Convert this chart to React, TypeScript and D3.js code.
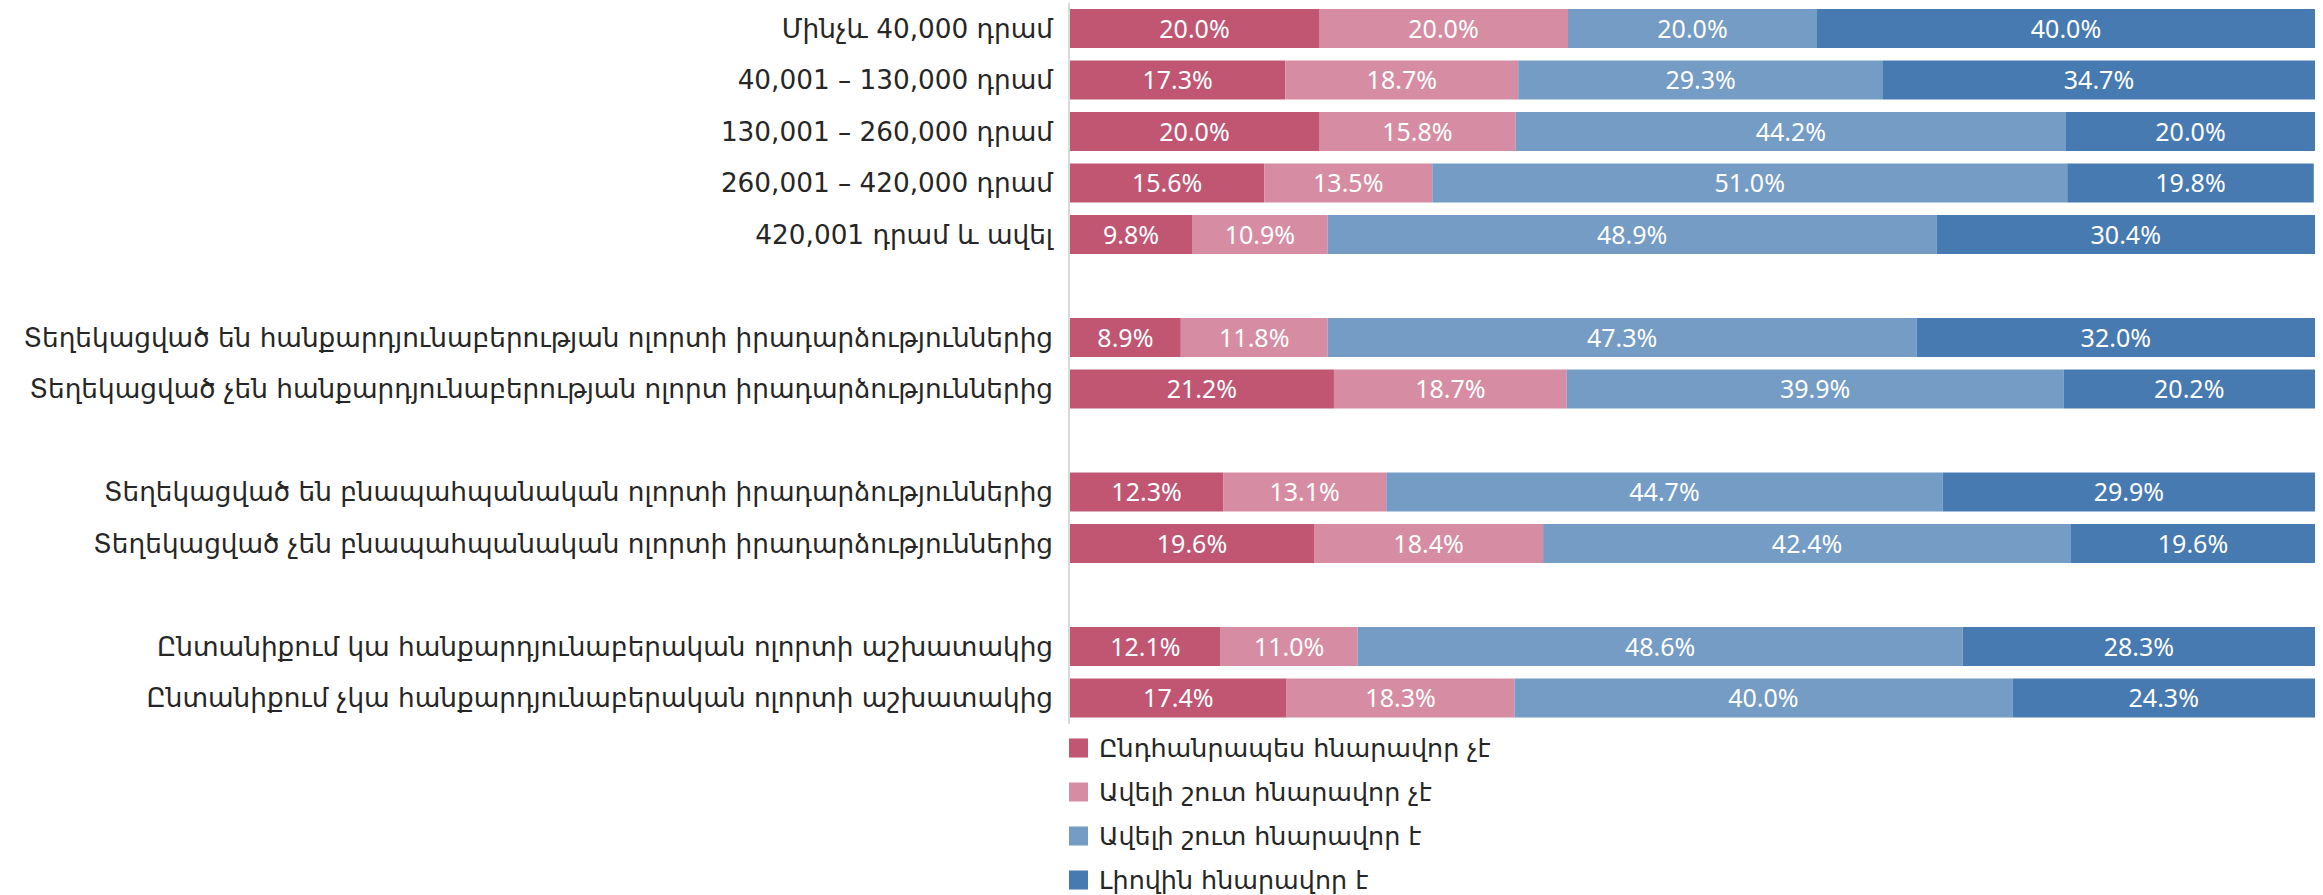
import React, { useEffect, useRef } from 'react';
import * as d3 from 'd3';

// categories top to bottom, "" marks an empty spacer row between groups
const categories = [
  'Մինչև 40,000 դրամ',
  '40,001 – 130,000 դրամ',
  '130,001 – 260,000 դրամ',
  '260,001 – 420,000 դրամ',
  '420,001 դրամ և ավել',
  '',
  'Տեղեկացված են հանքարդյունաբերության ոլորտի իրադարձություններից',
  'Տեղեկացված չեն հանքարդյունաբերության ոլորտ իրադարձություններից',
  '',
  'Տեղեկացված են բնապահպանական ոլորտի իրադարձություններից',
  'Տեղեկացված չեն բնապահպանական ոլորտի իրադարձություններից',
  '',
  'Ընտանիքում կա հանքարդյունաբերական ոլորտի աշխատակից',
  'Ընտանիքում չկա հանքարդյունաբերական ոլորտի աշխատակից',
];

const seriesNames = [
  'Ընդհանրապես հնարավոր չէ',
  'Ավելի շուտ հնարավոր չէ',
  'Ավելի շուտ հնարավոր է',
  'Լիովին հնարավոր է',
];

// one array per series, aligned with categories (null for spacer rows)
const notPossible = [20.0, 17.3, 20.0, 15.6, 9.8, null, 8.9, 21.2, null, 12.3, 19.6, null, 12.1, 17.4];
const ratherNot = [20.0, 18.7, 15.8, 13.5, 10.9, null, 11.8, 18.7, null, 13.1, 18.4, null, 11.0, 18.3];
const ratherYes = [20.0, 29.3, 44.2, 51.0, 48.9, null, 47.3, 39.9, null, 44.7, 42.4, null, 48.6, 40.0];
const fullyYes = [40.0, 34.7, 20.0, 19.8, 30.4, null, 32.0, 20.2, null, 29.9, 19.6, null, 28.3, 24.3];

const colors = ['#C15673', '#D68DA3', '#749CC4', '#477AB0'];

const App = () => {
  const ref = useRef<SVGSVGElement>(null);

  useEffect(() => {
    const width = 2323;
    const height = 895;
    const font = "'DejaVu Sans', sans-serif";
    const numFont = "'Noto Sans', 'DejaVu Sans', sans-serif";

    const svg = d3.select(ref.current);
    svg.selectAll('*').remove();

    const keys = categories.map((c, i) => (c === '' ? `gap${i}` : c));
    const rows = categories
      .map((c, i) => ({
        key: keys[i],
        label: c,
        values: [notPossible[i], ratherNot[i], ratherYes[i], fullyYes[i]],
      }))
      .filter(d => d.label !== '');

    const x = d3.scaleLinear().domain([0, 100]).range([1070, 2315]);
    const y = d3.scaleBand().domain(keys).range([2.75, 723.75]).paddingInner(0.243).paddingOuter(0.1215);

    // stacked segments
    const stack = d3.stack<any>()
      .keys(['0', '1', '2', '3'])
      .value((d, k) => d.values[+k] as number);
    const stacked = stack(rows);

    const layers = svg.selectAll('g.layer')
      .data(stacked)
      .enter()
      .append('g')
      .attr('class', 'layer')
      .attr('fill', (d, i) => colors[i]);

    layers.selectAll('rect')
      .data(d => d)
      .enter()
      .append('rect')
      .attr('x', d => x(d[0]))
      .attr('y', d => y(d.data.key) as number)
      .attr('width', d => x(d[1]) - x(d[0]))
      .attr('height', y.bandwidth());

    layers.selectAll('text')
      .data(d => d)
      .enter()
      .append('text')
      .attr('x', d => (x(d[0]) + x(d[1])) / 2)
      .attr('y', d => (y(d.data.key) as number) + y.bandwidth() / 2)
      .attr('dy', '0.36em')
      .attr('text-anchor', 'middle')
      .attr('fill', 'white')
      .style('font-family', numFont)
      .style('font-size', '25px')
      .text(d => `${(d[1] - d[0]).toFixed(1)}%`);

    // vertical axis line
    svg.append('line')
      .attr('x1', x(0) - 1)
      .attr('x2', x(0) - 1)
      .attr('y1', y.range()[0])
      .attr('y2', y.range()[1])
      .attr('stroke', '#d9d9d9')
      .attr('stroke-width', 2);

    // category labels
    svg.selectAll('text.cat')
      .data(rows)
      .enter()
      .append('text')
      .attr('class', 'cat')
      .attr('x', x(0) - 17)
      .attr('y', d => (y(d.key) as number) + y.bandwidth() / 2)
      .attr('dy', '0.36em')
      .attr('text-anchor', 'end')
      .attr('fill', '#262626')
      .style('font-family', font)
      .style('font-size', '26.3px')
      .text(d => d.label);

    // legend
    const legend = svg.selectAll('g.legend')
      .data(seriesNames)
      .enter()
      .append('g')
      .attr('class', 'legend')
      .attr('transform', (d, i) => `translate(${x(0) - 1}, ${748 + i * 44})`);

    legend.append('rect')
      .attr('x', 0)
      .attr('y', -9.5)
      .attr('width', 19)
      .attr('height', 19)
      .attr('fill', (d, i) => colors[i]);

    legend.append('text')
      .attr('x', 30)
      .attr('dy', '0.36em')
      .attr('fill', '#262626')
      .style('font-family', font)
      .style('font-size', '25.4px')
      .text(d => d);

    svg.attr('width', width).attr('height', height);
  }, []);

  return (
    <div style={{ position: 'fixed', left: 0, top: 0, background: 'white' }}>
      <svg ref={ref} width={2323} height={895} />
    </div>
  );
};

export default App;
